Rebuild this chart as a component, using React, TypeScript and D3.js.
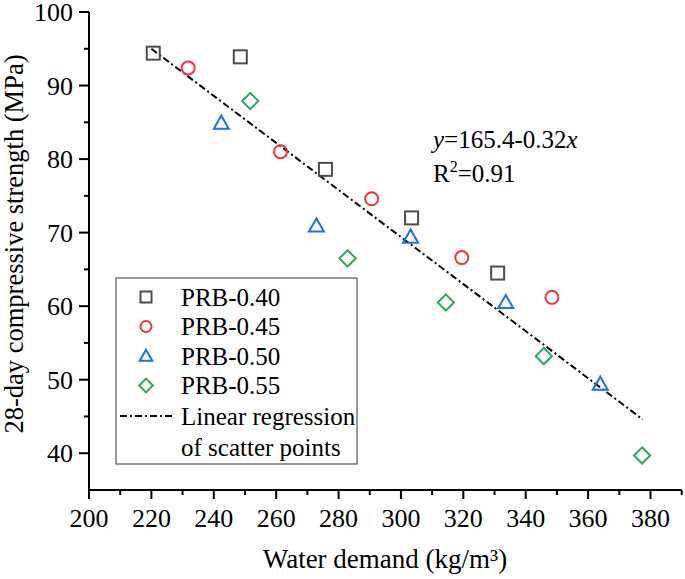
import React from 'react';
import * as d3 from 'd3';

// series: water demand (kg/m³) vs 28-day strength (MPa)
const prb040X = [220.6, 248.5, 275.8, 303.4, 331.0];
const prb040Y = [94.4, 93.9, 78.6, 72.0, 64.5];
const prb045X = [231.8, 261.4, 290.6, 319.5, 348.4];
const prb045Y = [92.4, 81.0, 74.6, 66.6, 61.2];
const prb050X = [242.4, 272.9, 303.1, 333.6, 363.9];
const prb050Y = [84.9, 70.9, 69.4, 60.5, 49.4];
const prb055X = [251.7, 282.9, 314.4, 345.8, 377.3];
const prb055Y = [87.9, 66.5, 60.5, 53.2, 39.7];

const seriesNames = ['PRB-0.40', 'PRB-0.45', 'PRB-0.50', 'PRB-0.55'];
const xTicks = [200, 220, 240, 260, 280, 300, 320, 340, 360, 380];
const yTicks = [40, 50, 60, 70, 80, 90, 100];

// fitted line y = 165.4 - 0.32x, drawn over the range of the points
const regIntercept = 165.4;
const regSlope = -0.32;
const regRange = [220, 377.5];

const width = 685;
const height = 579;
const font = '"Liberation Serif", "Times New Roman", serif';

const colors = ['#4d4d4d', '#f0353b', '#1f6fe8', '#2ea65a'];
const shapes = ['square', 'circle', 'triangle', 'diamond'];

function Marker({ shape, x, y, size, color }: { shape: string; x: number; y: number; size: number; color: string }) {
  const h = size / 2;
  const common = { fill: 'none', stroke: color, strokeWidth: 2 };
  if (shape === 'square') return <rect x={x - h} y={y - h} width={size} height={size} {...common} />;
  if (shape === 'circle') return <circle cx={x} cy={y} r={h} {...common} />;
  if (shape === 'triangle') {
    const r = h * 1.15;
    return <polygon points={`${x},${y - r} ${x + r},${y + r * 0.75} ${x - r},${y + r * 0.75}`} {...common} />;
  }
  const r = h * 1.25;
  return <polygon points={`${x},${y - r} ${x + r},${y} ${x},${y + r} ${x - r},${y}`} {...common} />;
}

export default function App() {
  const x = d3.scaleLinear().domain([200, 390]).range([89, 681.7]);
  const y = d3.scaleLinear().domain([35, 100]).range([490, 12]);

  const series = [
    { xs: prb040X, ys: prb040Y },
    { xs: prb045X, ys: prb045Y },
    { xs: prb050X, ys: prb050Y },
    { xs: prb055X, ys: prb055Y },
  ];

  const line = d3.line<number>()
    .x(d => x(d))
    .y(d => y(regIntercept + regSlope * d));

  const xMinor = d3.range(210, 391, 20);
  const yMinor = d3.range(45, 100, 10);

  const legX = 116, legY = 278, legW = 241, legH = 186;
  const rowY = [297, 326.5, 356, 385.5, 416, 447];

  return (
    <svg width={width} height={height} style={{ position: 'absolute', left: 0, top: 0 }} fontFamily={font}>
      <rect width={width} height={height} fill="#fff" />

      {/* axes */}
      <line x1={x(200)} x2={x(390)} y1={y(35)} y2={y(35)} stroke="#000" strokeWidth={2} />
      <line x1={x(200)} x2={x(200)} y1={y(35)} y2={y(100)} stroke="#000" strokeWidth={2} />
      {xTicks.map(t => (
        <g key={'xt' + t}>
          <line x1={x(t)} x2={x(t)} y1={y(35)} y2={y(35) + 9} stroke="#000" strokeWidth={2} />
          <text x={x(t)} y={527} textAnchor="middle" fontSize={26} fill="#000">{t}</text>
        </g>
      ))}
      {xMinor.map(t => (
        <line key={'xm' + t} x1={x(t)} x2={x(t)} y1={y(35)} y2={y(35) + 5} stroke="#000" strokeWidth={2} />
      ))}
      {yTicks.map(t => (
        <g key={'yt' + t}>
          <line x1={x(200) - 10} x2={x(200)} y1={y(t)} y2={y(t)} stroke="#000" strokeWidth={2} />
          <text x={73} y={y(t)} dy="0.35em" textAnchor="end" fontSize={26} fill="#000">{t}</text>
        </g>
      ))}
      {yMinor.map(t => (
        <line key={'ym' + t} x1={x(200) - 5} x2={x(200)} y1={y(t)} y2={y(t)} stroke="#000" strokeWidth={2} />
      ))}

      <text x={385} y={568} textAnchor="middle" fontSize={27} fill="#000">Water demand (kg/m³)</text>
      <text transform="translate(23,244) rotate(-90)" textAnchor="middle" fontSize={26.5} fill="#000">
        28-day compressive strength (MPa)
      </text>

      {/* regression line */}
      <path d={line(regRange) || ''} fill="none" stroke="#000" strokeWidth={2} strokeDasharray="7,3,2,3" />

      {/* points */}
      {series.map((s, i) =>
        s.xs.map((v, j) => (
          <Marker key={`p${i}-${j}`} shape={shapes[i]} x={x(v)} y={y(s.ys[j])} size={13} color={colors[i]} />
        ))
      )}

      {/* equation */}
      <text x={433} y={148} fontSize={25} fill="#000">
        <tspan fontStyle="italic">y</tspan>=165.4-0.32<tspan fontStyle="italic">x</tspan>
      </text>
      <text x={433} y={182} fontSize={25} fill="#000">
        R<tspan dy={-10} fontSize={16}>2</tspan><tspan dy={10}>=0.91</tspan>
      </text>

      {/* legend */}
      <rect x={legX} y={legY} width={legW} height={legH} fill="#fff" stroke="#555" strokeWidth={1.2} />
      {seriesNames.map((n, i) => (
        <g key={n}>
          <Marker shape={shapes[i]} x={146} y={rowY[i]} size={11} color={colors[i]} />
          <text x={181} y={rowY[i]} dy="0.35em" fontSize={25} fill="#000">{n}</text>
        </g>
      ))}
      <line x1={120} x2={175} y1={rowY[4]} y2={rowY[4]} stroke="#000" strokeWidth={2} strokeDasharray="7,3,2,3" />
      <text x={181} y={rowY[4]} dy="0.35em" fontSize={25} fill="#000">Linear regression</text>
      <text x={181} y={rowY[5]} dy="0.35em" fontSize={25} fill="#000">of scatter points</text>
    </svg>
  );
}
